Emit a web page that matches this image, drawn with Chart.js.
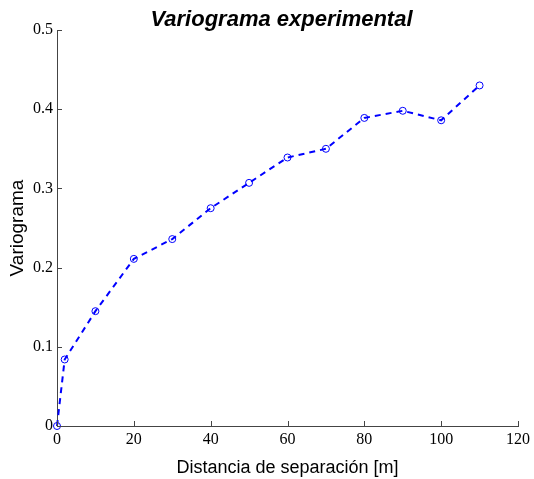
<!DOCTYPE html>
<html>
<head>
<meta charset="utf-8">
<script src="https://cdn.jsdelivr.net/npm/chart.js@4/dist/chart.umd.min.js"></script>
<style>
  body { margin: 0; background: #fff; }
  canvas { display: block; }
</style>
</head>
<body>
<canvas id="vgChart" width="534" height="479"></canvas>
<script>
const distancias = [0, 2, 10, 20, 30, 40, 50, 60, 70, 80, 90, 100, 110];
const variograma = [0, 0.084, 0.145, 0.211, 0.236, 0.275, 0.307, 0.339, 0.350, 0.389, 0.398, 0.386, 0.430];
const xTicks = [0, 20, 40, 60, 80, 100, 120];
const yTicks = [0, 0.1, 0.2, 0.3, 0.4, 0.5];
const titulo = 'Variograma experimental';

// marcas de los ejes hacia dentro, como en MATLAB, y titulo sobre el area
const innerTicks = {
    id: 'innerTicks',
    afterDraw(chart) {
        const c = chart.ctx;
        const xs = chart.scales.x, ys = chart.scales.y;
        const a = chart.chartArea;
        c.save();
        c.strokeStyle = '#444';
        c.lineWidth = 1;
        c.beginPath();
        xTicks.forEach(v => {
            const px = Math.round(xs.getPixelForValue(v)) + 0.5;
            c.moveTo(px, a.bottom);
            c.lineTo(px, a.bottom - 5);
        });
        yTicks.forEach(v => {
            const py = Math.round(ys.getPixelForValue(v)) + 0.5;
            c.moveTo(a.left, py);
            c.lineTo(a.left + 5, py);
        });
        c.stroke();

        c.fillStyle = '#000';
        c.font = 'italic bold 22px "Liberation Sans"';
        c.textAlign = 'center';
        c.textBaseline = 'middle';
        c.fillText(titulo, (a.left + a.right) / 2 - 6, 20);
        c.restore();
    }
};

const ctx = document.getElementById('vgChart').getContext('2d');
new Chart(ctx, {
    type: 'scatter',
    data: {
        datasets: [{
            data: distancias.map((d, i) => ({ x: d, y: variograma[i] })),
            showLine: true,
            borderColor: '#0000ff',
            borderWidth: 2,
            borderDash: [6, 5],
            pointStyle: 'circle',
            pointRadius: 3.5,
            pointBorderWidth: 1,
            pointBorderColor: '#0000ff',
            pointBackgroundColor: 'rgba(0,0,0,0)',
            clip: false
        }]
    },
    options: {
        responsive: false,
        animation: false,
        layout: { padding: { left: 0, right: 15, top: 30, bottom: 0 } },
        plugins: {
            legend: { display: false },
            tooltip: { enabled: false },
            title: { display: false }
        },
        scales: {
            x: {
                type: 'linear',
                min: 0,
                max: 120,
                afterBuildTicks: s => { s.ticks = xTicks.map(v => ({ value: v })); },
                afterFit: s => { s.height = 53; },
                grid: { display: false, drawTicks: false },
                border: { display: true, color: '#444', width: 1 },
                ticks: {
                    color: '#000',
                    padding: 4,
                    font: { family: 'Liberation Serif', size: 16 }
                },
                title: {
                    display: true,
                    text: 'Distancia de separación [m]',
                    color: '#000',
                    font: { family: 'Liberation Sans', size: 18 },
                    padding: { top: 7, bottom: 0 }
                }
            },
            y: {
                type: 'linear',
                min: 0,
                max: 0.5,
                afterBuildTicks: s => { s.ticks = yTicks.map(v => ({ value: v })); },
                afterFit: s => { s.width = 57; },
                grid: { display: false, drawTicks: false },
                border: { display: true, color: '#444', width: 1 },
                ticks: {
                    color: '#000',
                    padding: 4,
                    font: { family: 'Liberation Serif', size: 16 }
                },
                title: {
                    display: true,
                    text: 'Variograma',
                    color: '#000',
                    font: { family: 'Liberation Sans', size: 19 },
                    padding: { top: 6, bottom: 0 }
                }
            }
        }
    },
    plugins: [innerTicks]
});
</script>
</body>
</html>
